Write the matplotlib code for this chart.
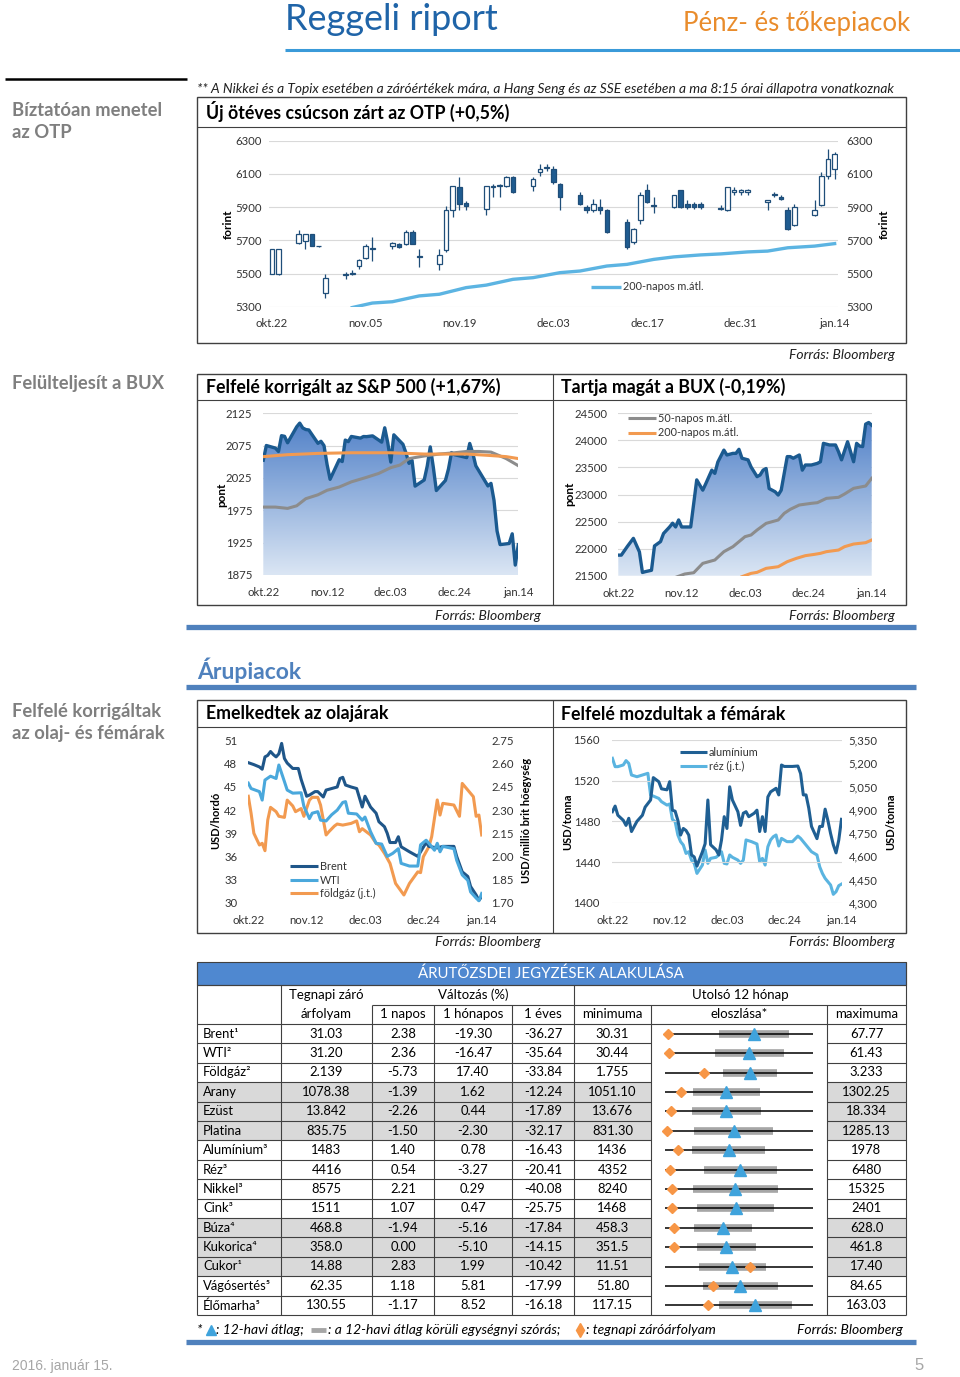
import numpy as np
import matplotlib.pyplot as plt
from matplotlib.patches import Rectangle
from matplotlib.colors import LinearSegmentedColormap
from matplotlib.ticker import FuncFormatter

W, H = 960, 1377
FONT = ['Lato', 'DejaVu Sans']
plt.rcParams['font.family'] = FONT

# ---------------- adatok ----------------
# x tengely: naptári nap okt.22-től (okt.22 = 0, jan.14 = 84)
otp_day   = [0, 1, 4, 5, 6, 7, 8, 11, 12, 13, 14, 15, 18, 19, 20, 21, 22, 25, 26, 27, 28, 29,
             32, 33, 34, 35, 36, 39, 40, 41, 42, 43, 46, 47, 48, 49, 50, 53, 54, 55, 56, 57,
             60, 61, 62, 63, 64, 67, 68, 69, 70, 71, 74, 75, 76, 77, 78, 81, 82, 83, 84]
otp_open  = [5500, 5495, 5685, 5695, 5740, 5668, 5380, 5488, 5500, 5545, 5595, 5648, 5665, 5680, 5680, 5750, 5603, 5560, 5640, 5880, 6020, 5922,
             5890, 6020, 6028, 6030, 6080, 6030, 6110, 6138, 6130, 6040, 5970, 5900, 5880, 5900, 5880, 5810, 5690, 5820, 6000, 5912,
             5900, 6000, 5920, 5920, 5920, 5892, 5880, 5990, 5990, 5990, 5930, 5970, 5960, 5880, 5790, 5850, 5910, 6090, 6130]
otp_close = [5650, 5650, 5740, 5735, 5665, 5665, 5470, 5495, 5503, 5580, 5665, 5652, 5685, 5660, 5750, 5680, 5597, 5610, 5880, 6030, 5920, 5905,
             6030, 6030, 6032, 6080, 5990, 6070, 6130, 6142, 6050, 5960, 5920, 5880, 5920, 5880, 5750, 5660, 5770, 5970, 5930, 5908,
             5970, 5900, 5900, 5900, 5900, 5888, 6020, 6000, 6000, 6000, 5940, 5980, 5950, 5770, 5900, 5880, 6090, 6190, 6220]
otp_high  = [5650, 5650, 5760, 5740, 5740, 5668, 5500, 5510, 5520, 5590, 5680, 5720, 5690, 5685, 5760, 5760, 5650, 5650, 5905, 6030, 6080, 5935,
             6030, 6040, 6040, 6085, 6085, 6080, 6160, 6160, 6145, 6045, 5990, 5910, 5950, 5950, 5890, 5830, 5775, 5990, 6040, 5960,
             5975, 6000, 5940, 5930, 5930, 5910, 6020, 6020, 6010, 6010, 5945, 5990, 5970, 5900, 5920, 5940, 6110, 6250, 6230]
otp_low   = [5495, 5490, 5680, 5650, 5665, 5662, 5350, 5465, 5490, 5525, 5590, 5575, 5650, 5655, 5670, 5675, 5540, 5520, 5630, 5840, 5880, 5880,
             5850, 5960, 5960, 6020, 5985, 6000, 6090, 6120, 6040, 5880, 5915, 5865, 5870, 5860, 5745, 5650, 5680, 5800, 5925, 5865,
             5895, 5895, 5890, 5890, 5890, 5880, 5875, 5970, 5970, 5970, 5880, 5960, 5940, 5760, 5785, 5845, 5905, 6070, 6070]
otp_ma_day = [12, 15, 18, 22, 25, 29, 32, 36, 39, 43, 46, 50, 53, 57, 60, 64, 67, 71, 74, 77, 81, 84]
otp_ma200  = [5295, 5322, 5330, 5365, 5375, 5415, 5430, 5465, 5475, 5505, 5515, 5545, 5555, 5585, 5600, 5612,
              5618, 5630, 5635, 5655, 5665, 5680]
otp_ticks = ['okt.22', 'nov.05', 'nov.19', 'dec.03', 'dec.17', 'dec.31', 'jan.14']

sp_day = [0, 1, 4, 5, 6, 7, 8, 11, 12, 13, 14, 15, 18, 19, 20, 21, 22, 25, 26, 27, 28, 29, 32, 33, 34, 36,
          39, 40, 41, 42, 43, 46, 47, 48, 49, 50, 53, 54, 55, 56, 57, 60, 61, 62, 63, 67, 68, 69, 70,
          74, 75, 76, 77, 78, 81, 82, 83, 84]
sp_val = [2052.5, 2075.2, 2071.2, 2065.9, 2090.4, 2089.4, 2079.4, 2104.1, 2109.8, 2102.3, 2099.9, 2099.2,
          2078.6, 2081.7, 2075.0, 2046.0, 2023.0, 2053.2, 2050.4, 2083.6, 2081.2, 2089.2, 2086.6, 2089.1,
          2088.9, 2090.1, 2080.4, 2102.6, 2079.5, 2049.6, 2091.7, 2077.1, 2063.6, 2047.6, 2052.2, 2012.4,
          2021.9, 2043.4, 2073.1, 2041.9, 2005.6, 2021.2, 2039.0, 2064.3, 2061.0, 2056.5, 2078.4, 2063.4,
          2043.9, 2012.7, 2016.7, 1990.3, 1943.1, 1922.0, 1923.7, 1938.7, 1890.3, 1921.8]
sp_ma50_day = [0, 4, 8, 11, 14, 18, 21, 25, 29, 34, 38, 42, 45, 48, 53, 58, 63, 67, 71, 75, 77, 80, 84]
sp_ma50 = [1980, 1980, 1978, 1982, 1993, 1999, 2006, 2011, 2019, 2026, 2032, 2041, 2045, 2055, 2059,
           2062, 2064, 2066, 2066, 2065, 2061, 2055, 2044]
sp_ma200_day = [0, 8, 18, 29, 42, 53, 63, 67, 74, 80, 84]
sp_ma200 = [2058, 2061, 2063, 2064, 2064, 2062, 2062, 2062, 2060, 2058, 2055]

bux_day = [0, 1, 3, 5, 7, 8, 9, 11, 12, 14, 15, 17, 18, 19, 20, 21, 24, 26, 28, 29, 31, 32, 33, 35, 36,
           38, 39, 40, 41, 43, 44, 46, 47, 48, 49, 50, 52, 53, 54, 56, 57, 58, 60, 61, 62, 64, 66, 67,
           68, 70, 72, 73, 74, 76, 78, 79, 80, 81, 82, 83, 84]
bux_val = [21880, 21880, 22040, 22190, 21940, 21560, 21575, 21600, 22050, 22130, 22280, 22400, 22470,
           22400, 22530, 22400, 22400, 23270, 23080, 23200, 23450, 23390, 23600, 23820, 23730, 23760,
           23760, 23835, 23670, 23640, 23510, 23330, 23360, 23450, 23480, 23110, 23050, 22990, 23080,
           23700, 23700, 23670, 23730, 23450, 23545, 23545, 23575, 23605, 23945, 23915, 23915, 23790,
           23640, 23975, 23605, 23945, 23895, 23885, 24300, 24330, 24280]
bux_ma50_day = [19, 22, 25, 28, 32, 35, 38, 42, 44, 46, 49, 53, 55, 57, 60, 64, 66, 69, 73, 75, 78, 82, 84]
bux_ma50 = [21469, 21531, 21555, 21728, 21790, 21944, 22036, 22221, 22252, 22344, 22467, 22529, 22652,
            22726, 22806, 22837, 22849, 22929, 22948, 23009, 23114, 23157, 23299]
bux_ma200_day = [41, 44, 46, 49, 53, 56, 59, 62, 65, 67, 69, 73, 75, 78, 82, 84]
bux_ma200 = [21482, 21543, 21562, 21636, 21666, 21759, 21820, 21870, 21894, 21913, 21944, 21974, 22036,
             22085, 22110, 22159]
week3_ticks = ['okt.22', 'nov.12', 'dec.03', 'dec.24', 'jan.14']

brent_day = [0, 2, 4, 5, 6, 7, 8, 9, 10, 11, 12, 13, 14, 16, 18, 19, 21, 22, 24, 25, 27, 28, 30, 32, 33,
             34, 35, 37, 39, 41, 42, 44, 46, 47, 49, 50, 51, 53, 54, 55, 58, 61, 62, 64, 65, 68, 70, 74,
             75, 77, 79, 80, 82, 83, 84]
brent = [48.15, 47.9, 47.6, 47.3, 48.9, 49.1, 49.6, 49.2, 48.9, 49.3, 50.65, 48.7, 48.1, 47.4, 47.4, 46.0,
         43.8, 43.95, 44.4, 44.4, 43.7, 44.6, 44.8, 45.0, 46.1, 46.25, 45.25, 45.0, 44.8, 42.4, 43.8, 42.4,
         41.6, 40.5, 39.85, 39.0, 37.8, 37.8, 38.55, 37.25, 36.6, 36.0, 36.6, 37.8, 37.3, 37.1, 37.3, 37.3,
         36.0, 34.0, 33.4, 32.1, 31.0, 30.3, 30.8]
wti_day = [0, 1, 4, 5, 6, 8, 10, 11, 13, 14, 16, 19, 20, 22, 23, 25, 26, 28, 30, 32, 34, 35, 36, 39, 41,
           42, 44, 46, 48, 50, 52, 54, 55, 58, 61, 62, 64, 65, 67, 68, 69, 70, 74, 75, 77, 79, 80, 82, 83, 84]
wti = [45.5, 44.8, 44.4, 43.3, 45.9, 46.4, 46.1, 47.85, 45.7, 44.6, 44.2, 44.25, 42.5, 40.9, 41.6, 41.8,
       40.7, 40.6, 41.4, 42.0, 43.0, 43.1, 41.6, 41.5, 40.7, 41.1, 39.2, 37.7, 37.6, 36.0, 36.4, 37.0, 35.1,
       34.75, 34.75, 37.5, 38.1, 37.7, 36.8, 37.7, 36.6, 37.3, 37.0, 35.5, 33.6, 32.9, 31.4, 30.6, 30.25, 31.2]
gas_day = [0, 1, 2, 4, 5, 6, 7, 8, 10, 11, 13, 14, 16, 17, 19, 20, 22, 23, 25, 26, 28, 29, 31, 32, 34,
           37, 39, 40, 41, 44, 46, 47, 49, 51, 53, 56, 58, 61, 62, 63, 65, 66, 68, 69, 70, 74, 76, 77,
           79, 81, 82, 83, 84]
gas = [2.39, 2.28, 2.15, 2.074, 2.085, 2.037, 2.236, 2.318, 2.29, 2.26, 2.253, 2.365, 2.327, 2.29, 2.31,
       2.26, 2.365, 2.383, 2.383, 2.333, 2.139, 2.16, 2.197, 2.21, 2.203, 2.214, 2.23, 2.16, 2.18, 2.139,
       2.085, 2.074, 2.02, 1.955, 1.825, 1.75, 1.825, 1.90, 1.895, 1.998, 2.063, 2.128, 2.366, 2.268, 2.344,
       2.333, 2.26, 2.473, 2.43, 2.387, 2.26, 2.268, 2.139]

alu_day = [0, 1, 2, 4, 5, 6, 7, 9, 11, 12, 14, 15, 17, 18, 20, 21, 22, 23, 24, 25, 26, 27, 28, 29, 30,
           31, 33, 34, 35, 36, 38, 39, 40, 41, 42, 43, 44, 46, 47, 48, 49, 50, 52, 53, 54, 55, 56, 57,
           58, 60, 61, 62, 63, 66, 68, 69, 70, 71, 72, 73, 75, 76, 77, 78, 79, 80, 81, 82, 83, 84]
alu = [1489.5, 1495, 1486, 1481, 1476, 1483, 1470, 1480, 1486, 1494, 1501, 1523, 1519, 1512, 1511, 1519,
       1491, 1490, 1481, 1466.5, 1473, 1471, 1466.5, 1447, 1445, 1436, 1450, 1458, 1501, 1457, 1452, 1447,
       1461.6, 1484.6, 1473, 1514, 1501, 1489.5, 1476, 1488, 1489.5, 1484.6, 1488, 1491, 1470, 1484.6, 1470,
       1504, 1509, 1512.5, 1506, 1535.4, 1534, 1534, 1534.4, 1527, 1506, 1506, 1493, 1475, 1463, 1475,
       1475, 1492, 1481, 1468, 1457, 1449, 1461.6, 1482]
cu_day = [0, 1, 2, 4, 5, 6, 7, 9, 11, 13, 14, 15, 17, 18, 20, 21, 22, 23, 24, 25, 26, 27, 28, 29, 30, 31,
          33, 34, 35, 36, 38, 39, 40, 41, 42, 43, 44, 46, 47, 48, 49, 51, 53, 54, 55, 56, 57, 58, 59, 60,
          61, 62, 64, 66, 68, 69, 71, 73, 75, 76, 77, 78, 80, 81, 82, 83, 84]
cu = [5232, 5178, 5178, 5189, 5217, 5199, 5124, 5113, 5124, 5135, 4995, 4988, 4973, 4952, 4930, 4937,
      4838, 4823, 4737, 4694, 4672, 4618, 4629, 4575, 4554, 4489, 4543, 4640, 4554, 4586, 4593, 4608,
      4629, 4554, 4550, 4608, 4593, 4575, 4554, 4575, 4705, 4694, 4679, 4565, 4586, 4543, 4661, 4705,
      4726, 4737, 4666, 4715, 4694, 4694, 4730, 4715, 4672, 4629, 4608, 4532, 4489, 4457, 4414, 4354,
      4371, 4410, 4420]

tbl_names = ['Brent¹', 'WTI²', 'Földgáz²', 'Arany', 'Ezüst', 'Platina', 'Alumínium³', 'Réz³', 'Nikkel³',
             'Cink³', 'Búza⁴', 'Kukorica⁴', 'Cukor¹', 'Vágósertés⁵', 'Élőmarha⁵']
tbl_close = [31.03, 31.20, 2.139, 1078.38, 13.842, 835.75, 1483, 4416, 8575, 1511, 468.8, 358.0, 14.88, 62.35, 130.55]
tbl_dec   = [2, 2, 3, 2, 3, 2, 0, 0, 0, 0, 1, 1, 2, 2, 2]
tbl_d1 = [2.38, 2.36, -5.73, -1.39, -2.26, -1.50, 1.40, 0.54, 2.21, 1.07, -1.94, 0.00, 2.83, 1.18, -1.17]
tbl_m1 = [-19.30, -16.47, 17.40, 1.62, 0.44, -2.30, 0.78, -3.27, 0.29, 0.47, -5.16, -5.10, 1.99, 5.81, 8.52]
tbl_y1 = [-36.27, -35.64, -33.84, -12.24, -17.89, -32.17, -16.43, -20.41, -40.08, -25.75, -17.84, -14.15,
          -10.42, -17.99, -16.18]
tbl_min = [30.31, 30.44, 1.755, 1051.10, 13.676, 831.30, 1436, 4352, 8240, 1468, 458.3, 351.5, 11.51, 51.80, 117.15]
tbl_max = [67.77, 61.43, 3.233, 1302.25, 18.334, 1285.13, 1978, 6480, 15325, 2401, 628.0, 461.8, 17.40, 84.65, 163.03]
tbl_mean = [52.8, 48.1, 2.600, 1154.7, 15.60, 1041.2, 1668, 5435, 11605, 1914, 524.5, 397.0, 14.18, 68.5, 145.1]
tbl_std = [8.77, 7.25, 0.272, 56.9, 1.09, 120.6, 135.5, 525, 2048, 243, 33.1, 22.1, 1.34, 8.37, 11.4]
tbl_shaded = [3, 4, 5, 10, 11, 12]

# ---------------- oldal ----------------
fig = plt.figure(figsize=(W / 100, H / 100), dpi=100)
pg = fig.add_axes([0, 0, 1, 1])
pg.set_xlim(0, W)
pg.set_ylim(H, 0)
pg.axis('off')

TXT = '#333333'
LINE = '#404040'
TICK = 8.2     # tengelyfeliratok
LEG = 7.8      # jelmagyarázat
TITLE = 12.8   # doboz címek
AXL = 8        # tengelycímek


def t(x, y, s, **kw):
    kw.setdefault('va', 'center')
    pg.text(x, y, s, **kw)


def seg(x0, x1, y0, y1, c=LINE, lw=0.8):
    pg.plot([x0, x1], [y0, y1], color=c, lw=lw, solid_capstyle='butt')


def box(x0, y0, x1, y1, lw=1.0):
    pg.add_patch(Rectangle((x0, y0), x1 - x0, y1 - y0, fill=False, ec=LINE, lw=lw))


def key(x0, x1, y, color, label, lw=2.2):
    seg(x0, x1, y, y, c=color, lw=lw)
    t(x1 + 2, y, label, fontsize=LEG, color=TXT)


def px_axes(x0, y0, x1, y1):
    ax = fig.add_axes([x0 / W, 1 - y1 / H, (x1 - x0) / W, (y1 - y0) / H])
    ax.patch.set_visible(False)
    for s in ax.spines.values():
        s.set_visible(False)
    ax.tick_params(length=0, labelsize=TICK, labelcolor=TXT)
    return ax


def src(x, y):
    t(x, y, 'Forrás: Bloomberg', fontsize=10, style='italic', ha='right', color='#202020')


# fejléc
t(285, 20, 'Reggeli riport', fontsize=26, color='#1f64a8')
t(910, 24, 'Pénz- és tőkepiacok', fontsize=18.5, color='#e98c2c', ha='right')
seg(285, 960, 50, 50, c='#3a9ad9', lw=2.2)
seg(5, 187, 79, 79, c='black', lw=1.8)
t(197, 89, '** A Nikkei és a Topix esetében a záróértékek mára, a Hang Seng és az SSE esetében a ma 8:15 órai '
      'állapotra vonatkoznak', fontsize=9.9, style='italic', color='#202020')

GRAY = '#7f7f7f'
for y, s in [(110, 'Bíztatóan menetel'), (133, 'az OTP'), (384, 'Felülteljesít a BUX'),
             (711, 'Felfelé korrigáltak'), (734, 'az olaj- és fémárak')]:
    t(12, y, s, fontsize=13.2, color=GRAY, weight='bold')

# dobozok
box(197, 97, 906, 343)
seg(197, 906, 127, 127)
t(206, 111, 'Új ötéves csúcson zárt az OTP (+0,5%)', fontsize=TITLE, weight='bold')
src(895, 355)

box(197, 374, 906, 605)
seg(197, 906, 400, 400)
seg(553, 553, 374, 605)
t(206, 387, 'Felfelé korrigált az S&P 500 (+1,67%)', fontsize=TITLE, weight='bold')
t(561, 387, 'Tartja magát a BUX (-0,19%)', fontsize=TITLE, weight='bold')
src(541, 616)
src(895, 616)

BAR = '#4f81bd'
seg(186, 916, 627, 627, c=BAR, lw=3.8)
t(197, 670, 'Árupiacok', fontsize=16.5, weight='bold', color=BAR)
seg(186, 916, 687, 687, c=BAR, lw=3.8)

box(197, 700, 906, 933)
seg(197, 906, 727, 727)
seg(553, 553, 700, 933)
t(206, 714, 'Emelkedtek az olajárak', fontsize=TITLE, weight='bold')
t(561, 714, 'Felfelé mozdultak a fémárak', fontsize=TITLE, weight='bold')
src(541, 942)
src(895, 942)

seg(186, 916, 1342, 1342, c=BAR, lw=3.8)
t(12, 1366, '2016. január 15.', fontsize=10, color='#a6a6a6', family=['Liberation Sans', 'DejaVu Sans'])
t(924, 1366, '5', fontsize=12, color='#a6a6a6', ha='right', family=['Liberation Sans', 'DejaVu Sans'])

# ---------------- OTP gyertyák ----------------
EDGE = '#1f4e79'
ax = px_axes(268.5, 140.7, 838, 306.7)
o = np.array(otp_open)
c = np.array(otp_close)
ax.vlines(otp_day, otp_low, otp_high, color=EDGE, lw=0.9, zorder=2)
body_h = np.maximum(np.abs(c - o), 3)
face = ['white' if cc >= oo else '#1f5c91' for oo, cc in zip(o, c)]
ax.bar(otp_day, body_h, bottom=np.minimum(o, c), width=0.7, color=face, edgecolor=EDGE, lw=0.9, zorder=3)
ax.plot(otp_ma_day, otp_ma200, color='#5cb4e2', lw=2.4, zorder=2)
ax.set_xlim(-0.5, 84.5)
ax.set_ylim(5300, 6300)
ax.set_yticks(np.arange(5300, 6301, 200))
ax.set_xticks(np.arange(0, 85, 14))
ax.set_xticklabels(otp_ticks)
ax.grid(axis='y', color='#d9d9d9', lw=0.8, zorder=0)
ax.set_axisbelow(True)
ax.tick_params(axis='x', pad=8)
ax.tick_params(axis='y', pad=5)
ax2 = ax.twinx()
ax2.set_ylim(ax.get_ylim())
ax2.set_yticks(np.arange(5300, 6301, 200))
for s in ax2.spines.values():
    s.set_visible(False)
ax2.tick_params(length=0, labelsize=TICK, labelcolor=TXT, pad=6)
t(228, 224, 'forint', fontsize=8.5, weight='bold', rotation=90, ha='center')
t(884, 224, 'forint', fontsize=8.5, weight='bold', rotation=90, ha='center')
key(591, 621, 287, '#5cb4e2', '200-napos m.átl.', lw=2.4)

# ---------------- területdiagramok ----------------
cmap = LinearSegmentedColormap.from_list('kek', ['#4a7cc6', '#dbe6f4'])


def area_chart(ax, day, val, ylo, yhi, step):
    poly = ax.fill_between(day, val, ylo, color='none', lw=0)
    img = ax.imshow(np.linspace(0, 1, 256).reshape(-1, 1), cmap=cmap, aspect='auto',
                    extent=[0, 84, ylo, yhi], origin='upper', zorder=1)
    img.set_clip_path(poly.get_paths()[0], ax.transData)
    ax.plot(day, val, color='#1b5a90', lw=2.4, zorder=4)
    ax.set_xlim(0, 84)
    ax.set_ylim(ylo, yhi)
    ax.set_yticks(np.arange(ylo, yhi + 1, step))
    ax.set_xticks(np.arange(0, 85, 21))
    ax.set_xticklabels(week3_ticks)
    ax.grid(axis='y', color='#d9d9d9', lw=0.8, zorder=0)
    ax.set_axisbelow(True)
    ax.tick_params(axis='x', pad=9)
    ax.tick_params(axis='y', pad=8)


ax = px_axes(263.3, 413.3, 518.3, 575)
area_chart(ax, sp_day, sp_val, 1875, 2125, 50)
ax.plot(sp_ma50_day, sp_ma50, color='#8c8c8c', lw=2.2, zorder=5)
ax.plot(sp_ma200_day, sp_ma200, color='#f29a50', lw=2.2, zorder=5)
t(222, 495, 'pont', fontsize=8.5, weight='bold', rotation=90, ha='center')
key(394, 420, 551, '#8c8c8c', '50-napos m.átl.')
key(394, 420, 567, '#f29a50', '200-napos m.átl.')

ax = px_axes(618.3, 413.3, 871.7, 575.7)
area_chart(ax, bux_day, bux_val, 21500, 24500, 500)
ax.plot(bux_ma50_day, bux_ma50, color='#8c8c8c', lw=2.2, zorder=5)
ax.plot(bux_ma200_day, bux_ma200, color='#f29a50', lw=2.2, zorder=5)
t(570, 494, 'pont', fontsize=8.5, weight='bold', rotation=90, ha='center')
key(628, 656, 418, '#8c8c8c', '50-napos m.átl.')
key(628, 656, 433, '#f29a50', '200-napos m.átl.')

# ---------------- olaj ----------------
ax = px_axes(248.3, 740.7, 481.7, 902.7)
ax2 = ax.twinx()
for s in ax2.spines.values():
    s.set_visible(False)
ax2.tick_params(length=0, labelsize=TICK, labelcolor=TXT, pad=7)
ax2.plot(gas_day, gas, color='#f29a50', lw=2.2)
ax.plot(brent_day, brent, color='#1f5689', lw=2.2, zorder=3)
ax.plot(wti_day, wti, color='#4aa8dc', lw=2.2, zorder=4)
ax.set_zorder(ax2.get_zorder() + 1)
ax.set_xlim(0, 84)
ax.set_ylim(30, 51)
ax.set_yticks(np.arange(30, 52, 3))
ax2.set_ylim(1.70, 2.75)
ax2.set_yticks(np.arange(1.70, 2.76, 0.15))
ax2.yaxis.set_major_formatter(FuncFormatter(lambda v, p: f'{v:.2f}'))
ax.set_xticks(np.arange(0, 85, 21))
ax.set_xticklabels(week3_ticks)
ax.tick_params(axis='x', pad=9)
ax.tick_params(axis='y', pad=8)
t(216, 820, 'USD/hordó', fontsize=AXL, weight='bold', rotation=90, ha='center')
t(527, 820, 'USD/millió brit hőegység', fontsize=AXL, weight='bold', rotation=90, ha='center')
key(290, 318, 866, '#1f5689', 'Brent')
key(290, 318, 880, '#4aa8dc', 'WTI')
key(290, 318, 893, '#f29a50', 'földgáz (j.t.)')

# ---------------- fémek ----------------
ax = px_axes(612.4, 740, 841.5, 902.7)
ax2 = ax.twinx()
for s in ax2.spines.values():
    s.set_visible(False)
ax2.tick_params(length=0, labelsize=TICK, labelcolor=TXT, pad=5)
ax2.plot(cu_day, cu, color='#5ab4e0', lw=2.2)
ax.plot(alu_day, alu, color='#1f5f93', lw=2.2)
ax.set_zorder(ax2.get_zorder() + 1)
ax.set_xlim(0, 84)
ax.set_ylim(1400, 1560)
ax.set_yticks(np.arange(1400, 1561, 40))
ax.grid(axis='y', color='#d9d9d9', lw=0.8)
ax2.set_ylim(4300, 5350)
ax2.set_yticks(np.arange(4300, 5351, 150))
ax2.yaxis.set_major_formatter(FuncFormatter(lambda v, p: f'{v:,.0f}'))
ax.set_xticks(np.arange(0, 85, 21))
ax.set_xticklabels(week3_ticks)
ax.tick_params(axis='x', pad=9)
ax.tick_params(axis='y', pad=9)
t(568, 822, 'USD/tonna', fontsize=AXL, weight='bold', rotation=90, ha='center')
t(891, 822, 'USD/tonna', fontsize=AXL, weight='bold', rotation=90, ha='center')
key(680, 707, 752, '#1f5f93', 'alumínium')
key(680, 707, 766, '#5ab4e0', 'réz (j.t.)')

# ---------------- táblázat ----------------
cols = [197, 281, 372, 434, 512, 574, 651, 827, 906]
top, h1, h2 = 962, 985, 1005
r0, rh = 1024, 19.4
nrow = len(tbl_names)
bottom = r0 + nrow * rh
FS = 9.4

pg.add_patch(Rectangle((197, top), 709, h1 - top, fc='#4f88d0', ec=LINE, lw=0.8))
t(551, (top + h1) / 2, 'ÁRUTŐZSDEI JEGYZÉSEK ALAKULÁSA', fontsize=10.8, color='white', ha='center')
for i in tbl_shaded:
    y = r0 + i * rh
    pg.add_patch(Rectangle((cols[0], y), cols[6] - cols[0], rh, fc='#d9d9d9', ec='none'))
    pg.add_patch(Rectangle((cols[7], y), cols[8] - cols[7], rh, fc='#d9d9d9', ec='none'))

seg(cols[0], cols[8], h1, h1)
seg(cols[2], cols[8], h2, h2)
seg(cols[0], cols[8], r0, r0)
for i in range(1, nrow):
    y = r0 + i * rh
    seg(cols[0], cols[6], y, y)
    seg(cols[7], cols[8], y, y)
seg(cols[0], cols[8], bottom, bottom)
for x in (cols[0], cols[8]):
    seg(x, x, top, bottom)
for x in (cols[1], cols[5]):
    seg(x, x, h1, bottom)
for x in (cols[2], cols[3], cols[4], cols[6], cols[7]):
    seg(x, x, h2, bottom)

ctr = [(a + b) / 2 for a, b in zip(cols[:-1], cols[1:])]
t(ctr[1], (h1 + h2) / 2, 'Tegnapi záró', fontsize=9.5, ha='center')
t((cols[2] + cols[5]) / 2, (h1 + h2) / 2, 'Változás (%)', fontsize=9.5, ha='center')
t((cols[5] + cols[8]) / 2, (h1 + h2) / 2, 'Utolsó 12 hónap', fontsize=9.5, ha='center')
for k, s in zip(range(1, 8), ['árfolyam', '1 napos', '1 hónapos', '1 éves', 'minimuma', 'eloszlása*', 'maximuma']):
    t(ctr[k], (h2 + r0) / 2, s, fontsize=9.5, ha='center')

for i in range(nrow):
    y = r0 + (i + 0.5) * rh
    d = tbl_dec[i]
    t(cols[0] + 6, y, tbl_names[i], fontsize=FS)
    t(ctr[1], y, f'{tbl_close[i]:.{d}f}', fontsize=FS, ha='center')
    t(ctr[2], y, f'{tbl_d1[i]:.2f}', fontsize=FS, ha='center')
    t(ctr[3], y, f'{tbl_m1[i]:.2f}', fontsize=FS, ha='center')
    t(ctr[4], y, f'{tbl_y1[i]:.2f}', fontsize=FS, ha='center')
    t(ctr[5], y, f'{tbl_min[i]:.{d}f}', fontsize=FS, ha='center')
    t(ctr[7], y, f'{tbl_max[i]:.{d}f}', fontsize=FS, ha='center')

# eloszlás oszlop: min..max skálára normálva
axd = px_axes(cols[6], r0, cols[7], bottom)
axd.set_xticks([])
axd.set_yticks([])
lo = np.array(tbl_min)
rng = np.array(tbl_max) - lo
rows = np.arange(nrow) + 0.5
mean_n = (np.array(tbl_mean) - lo) / rng
std_n = np.array(tbl_std) / rng
close_n = (np.array(tbl_close) - lo) / rng
axd.hlines(rows, mean_n - std_n, mean_n + std_n, color='#a6a6a6', lw=5.5, zorder=1)
axd.hlines(rows, 0, 1, color='black', lw=1.1, zorder=2)
axd.plot(mean_n, rows, ls='none', marker='^', ms=8, color='#3fa3dc', zorder=3)
axd.plot(close_n, rows, ls='none', marker='D', ms=5.5, color='#f79646', zorder=4)
axd.set_xlim(-0.097, 1.095)
axd.set_ylim(nrow, 0)

# lábjegyzet
fy = 1330
FN = 10
t(197, fy, '*', fontsize=FN, style='italic')
pg.plot([211], [fy], marker='^', ms=7, color='#3fa3dc', ls='none')
t(216, fy, ': 12-havi átlag;', fontsize=FN, style='italic')
seg(311, 326, fy, fy, c='#a6a6a6', lw=3.5)
t(328, fy, ': a 12-havi átlag körüli egységnyi szórás;', fontsize=FN, style='italic')
pg.plot([580], [fy], marker='d', ms=7, color='#f79646', ls='none')
t(586, fy, ': tegnapi záróárfolyam', fontsize=FN, style='italic')
t(903, fy, 'Forrás: Bloomberg', fontsize=FN, style='italic', ha='right')

fig.savefig('out.png', dpi=100)
